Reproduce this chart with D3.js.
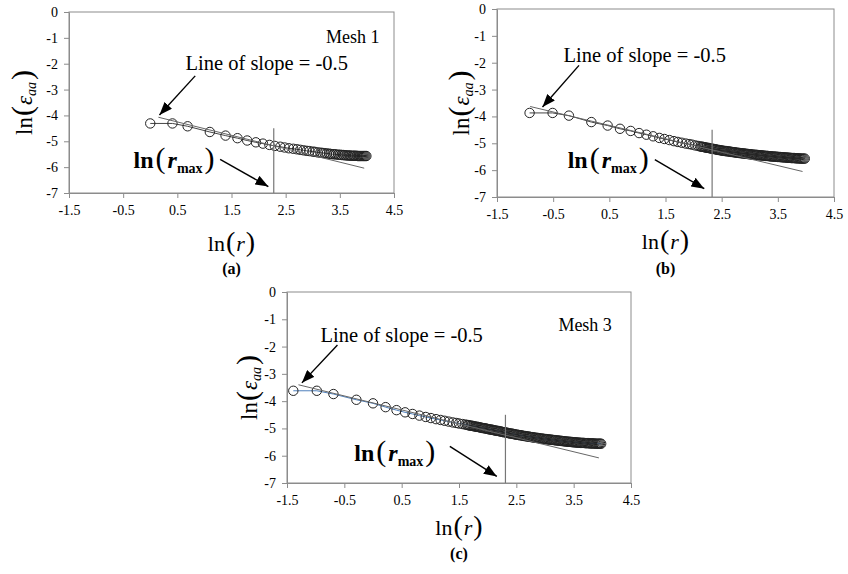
<!DOCTYPE html>
<html>
<head>
<meta charset="utf-8">
<script src="https://cdn.jsdelivr.net/npm/d3@7"></script>
<style>
body { margin: 0; background: #fff; }
svg text { font-family: "Liberation Serif", "Times New Roman", serif; }
</style>
</head>
<body>
<svg id="fig" width="848" height="574" font-family="Liberation Serif, serif"></svg>
<script>
var xTicks = [-1.5, -0.5, 0.5, 1.5, 2.5, 3.5, 4.5];
var yTicks = [0, -1, -2, -3, -4, -5, -6, -7];

// Mesh 1
var meshAx = [0, 0.41, 0.69, 1.10, 1.39, 1.61, 1.79, 1.95, 2.08, 2.20,
  2.30, 2.40, 2.48, 2.56, 2.64, 2.71, 2.77, 2.83, 2.89, 2.94,
  3.00, 3.04, 3.09, 3.14, 3.18, 3.22, 3.26, 3.30, 3.33, 3.37,
  3.40, 3.43, 3.47, 3.50, 3.53, 3.56, 3.58, 3.61, 3.64, 3.66,
  3.69, 3.71, 3.74, 3.76, 3.78, 3.81, 3.83, 3.85, 3.87, 3.89,
  3.91, 3.93, 3.95, 3.97, 3.99];
var meshAy = [-4.31, -4.31, -4.42, -4.64, -4.78, -4.88, -4.97, -5.04, -5.09, -5.14,
  -5.18, -5.21, -5.24, -5.27, -5.29, -5.31, -5.33, -5.35, -5.37, -5.38,
  -5.40, -5.41, -5.43, -5.44, -5.45, -5.46, -5.47, -5.48, -5.49, -5.50,
  -5.50, -5.51, -5.52, -5.52, -5.53, -5.53, -5.54, -5.54, -5.55, -5.55,
  -5.55, -5.56, -5.56, -5.56, -5.56, -5.56, -5.57, -5.57, -5.57, -5.57,
  -5.57, -5.57, -5.57, -5.57, -5.57];

// Mesh 2
var meshBx = [-0.92, -0.51, -0.22, 0.18, 0.47, 0.69, 0.88, 1.03, 1.16, 1.28,
  1.39, 1.48, 1.57, 1.65, 1.72, 1.79, 1.86, 1.92, 1.97, 2.03, 2.08,
  2.12, 2.14, 2.16, 2.18, 2.20, 2.22, 2.24, 2.26, 2.28, 2.30,
  2.32, 2.34, 2.36, 2.38, 2.40, 2.42, 2.44, 2.46, 2.48, 2.50,
  2.52, 2.54, 2.56, 2.58, 2.60, 2.62, 2.64, 2.66, 2.68, 2.70,
  2.72, 2.74, 2.76, 2.78, 2.80, 2.82, 2.84, 2.86, 2.88, 2.90,
  2.92, 2.94, 2.96, 2.98, 3.00, 3.02, 3.04, 3.06, 3.08, 3.10,
  3.12, 3.14, 3.16, 3.18, 3.20, 3.22, 3.24, 3.26, 3.28, 3.30,
  3.32, 3.34, 3.36, 3.38, 3.40, 3.42, 3.44, 3.46, 3.48, 3.50,
  3.52, 3.54, 3.56, 3.58, 3.60, 3.62, 3.64, 3.66, 3.68, 3.70,
  3.72, 3.74, 3.76, 3.78, 3.80, 3.82, 3.84, 3.86, 3.88, 3.90,
  3.92, 3.94, 3.96, 3.98];
var meshBy = [-3.87, -3.87, -3.97, -4.21, -4.34, -4.46, -4.54, -4.62, -4.68, -4.74,
  -4.80, -4.84, -4.88, -4.92, -4.95, -4.98, -5.01, -5.03, -5.05, -5.08, -5.10,
  -5.12, -5.13, -5.13, -5.14, -5.15, -5.16, -5.17, -5.17, -5.18, -5.19,
  -5.20, -5.21, -5.21, -5.22, -5.23, -5.24, -5.25, -5.25, -5.26, -5.27,
  -5.28, -5.28, -5.29, -5.29, -5.30, -5.30, -5.31, -5.32, -5.32, -5.33,
  -5.33, -5.34, -5.35, -5.35, -5.36, -5.36, -5.37, -5.37, -5.38, -5.38,
  -5.39, -5.39, -5.40, -5.40, -5.41, -5.41, -5.42, -5.42, -5.43, -5.43,
  -5.43, -5.44, -5.44, -5.45, -5.45, -5.45, -5.46, -5.46, -5.47, -5.47,
  -5.47, -5.48, -5.48, -5.49, -5.49, -5.49, -5.50, -5.50, -5.50, -5.51,
  -5.51, -5.51, -5.52, -5.52, -5.52, -5.53, -5.53, -5.53, -5.54, -5.54,
  -5.54, -5.55, -5.55, -5.55, -5.55, -5.56, -5.56, -5.56, -5.56, -5.57,
  -5.57, -5.57, -5.57, -5.57];

// Mesh 3
var meshCx = [-1.39, -0.98, -0.69, -0.29, 0.00, 0.22, 0.41, 0.56, 0.69, 0.81,
  0.92, 1.01, 1.10, 1.18, 1.25, 1.32, 1.39, 1.45, 1.50, 1.56, 1.61,
  1.64, 1.66, 1.68, 1.70, 1.72, 1.74, 1.76, 1.78, 1.80, 1.82,
  1.84, 1.86, 1.88, 1.90, 1.92, 1.94, 1.96, 1.98, 2.00, 2.02,
  2.04, 2.06, 2.08, 2.10,
  2.12, 2.14, 2.16, 2.18, 2.20, 2.22, 2.24, 2.26, 2.28, 2.30,
  2.32, 2.34, 2.36, 2.38, 2.40, 2.42, 2.44, 2.46, 2.48, 2.50,
  2.52, 2.54, 2.56, 2.58, 2.60, 2.62, 2.64, 2.66, 2.68, 2.70,
  2.72, 2.74, 2.76, 2.78, 2.80, 2.82, 2.84, 2.86, 2.88, 2.90,
  2.92, 2.94, 2.96, 2.98, 3.00, 3.02, 3.04, 3.06, 3.08, 3.10,
  3.12, 3.14, 3.16, 3.18, 3.20, 3.22, 3.24, 3.26, 3.28, 3.30,
  3.32, 3.34, 3.36, 3.38, 3.40, 3.42, 3.44, 3.46, 3.48, 3.50,
  3.52, 3.54, 3.56, 3.58, 3.60, 3.62, 3.64, 3.66, 3.68, 3.70,
  3.72, 3.74, 3.76, 3.78, 3.80, 3.82, 3.84, 3.86, 3.88, 3.90,
  3.92, 3.94, 3.96, 3.98];
var meshCy = [-3.62, -3.62, -3.74, -3.95, -4.08, -4.22, -4.33, -4.41, -4.47, -4.53,
  -4.58, -4.62, -4.66, -4.69, -4.72, -4.75, -4.78, -4.80, -4.82, -4.84, -4.86,
  -4.87, -4.88, -4.89, -4.90, -4.90, -4.91, -4.92, -4.93, -4.94, -4.94,
  -4.95, -4.96, -4.97, -4.98, -4.99, -4.99, -5.00, -5.01, -5.02, -5.03,
  -5.04, -5.04, -5.05, -5.06,
  -5.07, -5.08, -5.09, -5.09, -5.10, -5.11, -5.12, -5.13, -5.14, -5.14,
  -5.15, -5.16, -5.17, -5.18, -5.19, -5.19, -5.20, -5.21, -5.22, -5.23,
  -5.23, -5.24, -5.25, -5.25, -5.26, -5.27, -5.28, -5.28, -5.29, -5.30,
  -5.30, -5.31, -5.32, -5.32, -5.33, -5.34, -5.34, -5.35, -5.35, -5.36,
  -5.37, -5.37, -5.38, -5.38, -5.39, -5.39, -5.40, -5.40, -5.41, -5.41,
  -5.42, -5.42, -5.43, -5.43, -5.44, -5.44, -5.45, -5.45, -5.46, -5.46,
  -5.47, -5.47, -5.48, -5.48, -5.49, -5.49, -5.49, -5.50, -5.50, -5.51,
  -5.51, -5.51, -5.52, -5.52, -5.52, -5.53, -5.53, -5.53, -5.53, -5.54,
  -5.54, -5.54, -5.54, -5.55, -5.55, -5.55, -5.55, -5.55, -5.56, -5.56,
  -5.56, -5.56, -5.56, -5.56];

// reference lines of slope -0.5 (start, end)
var slopeA = [[0.15, -4.07], [3.95, -6.04]];
var slopeB = [[-0.91, -3.63], [3.94, -6.05]];
var slopeC = [[-1.30, -3.40], [3.94, -6.08]];

// ln(r_max) per mesh
var rMax = [2.28, 2.33, 2.31];

var svg = d3.select('#fig');

var defs = svg.append('defs');
defs.append('marker')
    .attr('id', 'head')
    .attr('markerUnits', 'userSpaceOnUse')
    .attr('markerWidth', 14)
    .attr('markerHeight', 10)
    .attr('refX', 13)
    .attr('refY', 5)
    .attr('orient', 'auto')
  .append('path')
    .attr('d', 'M0,0 L13,5 L0,10 Z')
    .attr('fill', '#000')

var panels = [
  { left: 69, right: 394, top: 12, bottom: 193, xs: meshAx, ys: meshAy, slope: slopeA, rmax: rMax[0],
    lineColor: '#444', ylabDx: 45, xlabDy: 50, capDy: 75, cap: '(a)', mesh: 'Mesh 1', meshAt: [3.74, -0.97],
    slopeText: [2.15, -1.97], slopeArrow: [[0.83, -2.47], [0.17, -3.98]],
    rmaxText: [0.44, -5.72], rmaxArrow: [[1.29, -5.70], [2.18, -6.75]] },
  { left: 497, right: 834, top: 9, bottom: 197, xs: meshBx, ys: meshBy, slope: slopeB, rmax: rMax[1],
    lineColor: '#444', ylabDx: 36, xlabDy: 44, capDy: 71, cap: '(b)', mesh: null,
    slopeText: [1.13, -1.70], slopeArrow: [[-0.04, -2.10], [-0.69, -3.65]],
    rmaxText: [0.48, -5.61], rmaxArrow: [[1.31, -5.61], [2.19, -6.69]] },
  { left: 287, right: 631, top: 292, bottom: 483, xs: meshCx, ys: meshCy, slope: slopeC, rmax: rMax[2],
    lineColor: '#4f81bd', ylabDx: 38, xlabDy: 44, capDy: 70, cap: '(c)', mesh: 'Mesh 3', meshAt: [3.70, -1.20],
    slopeText: [0.50, -1.56], slopeArrow: [[-0.62, -1.94], [-1.24, -3.33]],
    rmaxText: [0.38, -5.89], rmaxArrow: [[1.34, -5.66], [2.16, -6.76]] }
];

panels.forEach(drawPanel);

function drawPanel(p) {
    var x = d3.scaleLinear().domain([-1.5, 4.5]).range([p.left, p.right]);
    var y = d3.scaleLinear().domain([-7, 0]).range([p.bottom, p.top]);
    var g = svg.append('g');

    g.append('rect')
        .attr('x', p.left).attr('y', p.top)
        .attr('width', p.right - p.left).attr('height', p.bottom - p.top)
        .attr('fill', 'none').attr('stroke', '#8c8c8c')

    var xa = g.append('g')
        .attr('transform', 'translate(0,' + p.bottom + ')')
        .call(d3.axisBottom(x).tickValues(xTicks).tickSize(5).tickSizeOuter(0).tickPadding(7)
            .tickFormat(function(d) { return String(d); }));
    var ya = g.append('g')
        .attr('transform', 'translate(' + p.left + ',0)')
        .call(d3.axisLeft(y).tickValues(yTicks).tickSize(5).tickSizeOuter(0).tickPadding(6)
            .tickFormat(function(d) { return String(d); }));
    [xa, ya].forEach(function(a) {
        a.attr('font-family', null).attr('font-size', null);
        a.selectAll('path, line').attr('stroke', '#8c8c8c');
        a.selectAll('text')
            .attr('font-family', 'Liberation Serif, serif')
            .attr('font-size', 14)
            .attr('fill', '#000');
    });

    var pts = d3.zip(p.xs, p.ys);
    g.append('path')
        .datum(pts)
        .attr('d', d3.line().x(function(d) { return x(d[0]); }).y(function(d) { return y(d[1]); }))
        .attr('fill', 'none')
        .attr('stroke', p.lineColor)
        .attr('stroke-width', 1)

    g.selectAll('circle.pt')
        .data(pts)
      .enter().append('circle')
        .attr('class', 'pt')
        .attr('cx', function(d) { return x(d[0]); })
        .attr('cy', function(d) { return y(d[1]); })
        .attr('r', 4.7)
        .attr('fill', 'none')
        .attr('stroke', '#222')
        .attr('stroke-width', 1)

    g.append('line')
        .attr('x1', x(p.slope[0][0])).attr('y1', y(p.slope[0][1]))
        .attr('x2', x(p.slope[1][0])).attr('y2', y(p.slope[1][1]))
        .attr('stroke', '#666').attr('stroke-width', 1)

    g.append('line')
        .attr('x1', x(p.rmax)).attr('y1', y(-4.5))
        .attr('x2', x(p.rmax)).attr('y2', y(-7))
        .attr('stroke', '#777').attr('stroke-width', 1.2)

    ;[p.slopeArrow, p.rmaxArrow].forEach(function(a) {
        g.append('line')
            .attr('x1', x(a[0][0])).attr('y1', y(a[0][1]))
            .attr('x2', x(a[1][0])).attr('y2', y(a[1][1]))
            .attr('stroke', '#000').attr('stroke-width', 1.4)
            .attr('marker-end', 'url(#head)')
    });

    g.append('text')
        .attr('x', x(p.slopeText[0])).attr('y', y(p.slopeText[1]) + 7)
        .attr('text-anchor', 'middle')
        .attr('font-size', 20.5)
        .text('Line of slope = -0.5')

    if (p.mesh) {
        g.append('text')
            .attr('x', x(p.meshAt[0])).attr('y', y(p.meshAt[1]) + 6)
            .attr('text-anchor', 'middle')
            .attr('font-size', 18)
            .text(p.mesh)
    }

    // bold ln(r_max)
    var rt = g.append('text')
        .attr('x', x(p.rmaxText[0])).attr('y', y(p.rmaxText[1]) + 8)
        .attr('text-anchor', 'middle')
    rt.append('tspan').attr('font-size', 24).attr('font-weight', 'bold').text('ln');
    rt.append('tspan').attr('font-size', 30).attr('dx', 2).text('(');
    rt.append('tspan').attr('font-size', 24).attr('font-weight', 'bold').attr('font-style', 'italic').attr('dx', 2).text('r');
    rt.append('tspan').attr('font-size', 14).attr('font-weight', 'bold').attr('dy', 5).text('max');
    rt.append('tspan').attr('font-size', 30).attr('dy', -5).attr('dx', 2).text(')');

    // y axis title
    var cy = (p.top + p.bottom) / 2;
    var yt = g.append('text')
        .attr('transform', 'translate(' + (p.left - p.ylabDx) + ',' + cy + ') rotate(-90)')
        .attr('y', 8)
        .attr('text-anchor', 'middle')
    yt.append('tspan').attr('font-size', 23).text('ln');
    yt.append('tspan').attr('font-size', 30).attr('dx', 1).text('(');
    yt.append('tspan').attr('font-size', 23).attr('font-style', 'italic').attr('dx', 1).text('\u03b5');
    yt.append('tspan').attr('font-size', 14).attr('font-style', 'italic').attr('dy', 4).text('aa');
    yt.append('tspan').attr('font-size', 30).attr('dy', -4).attr('dx', 2).text(')');

    // x axis title
    var cx = (p.left + p.right) / 2;
    var xt = g.append('text')
        .attr('x', cx).attr('y', p.bottom + p.xlabDy + 8)
        .attr('text-anchor', 'middle')
    xt.append('tspan').attr('font-size', 22).text('ln');
    xt.append('tspan').attr('font-size', 28).attr('dx', 1).text('(');
    xt.append('tspan').attr('font-size', 22).attr('font-style', 'italic').attr('dx', 1).text('r');
    xt.append('tspan').attr('font-size', 28).attr('dx', 1).text(')');

    g.append('text')
        .attr('x', cx).attr('y', p.bottom + p.capDy + 6)
        .attr('text-anchor', 'middle')
        .attr('font-size', 16)
        .attr('font-weight', 'bold')
        .text(p.cap)
}
</script>
</body>
</html>
